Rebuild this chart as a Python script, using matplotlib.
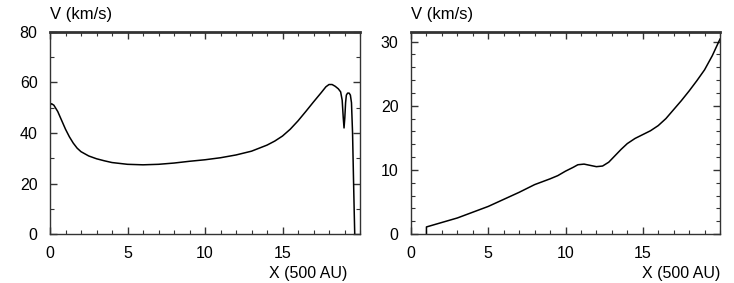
import matplotlib
matplotlib.use("Agg")
import matplotlib.pyplot as plt
from matplotlib.ticker import MultipleLocator

# Left panel data
x_left = [0.0, 0.1, 0.25, 0.5, 0.75, 1.0, 1.25, 1.5, 1.75, 2.0, 2.5, 3.0, 3.5, 4.0, 5.0, 6.0, 7.0,
          8.0, 9.0, 10.0, 11.0, 12.0, 13.0, 14.0, 14.5, 15.0, 15.5, 16.0, 16.5, 17.0, 17.5, 17.8,
          18.0, 18.2, 18.4, 18.6, 18.75, 18.85, 18.92, 18.97, 19.02, 19.07, 19.12, 19.2, 19.3,
          19.38, 19.45, 19.52, 19.58, 19.63, 19.66]
v_left = [51.0, 51.6, 51.0, 48.5, 45.0, 41.5, 38.5, 36.0, 34.0, 32.6, 30.9, 29.8, 29.0, 28.3, 27.6,
          27.4, 27.6, 28.1, 28.8, 29.4, 30.2, 31.3, 32.8, 35.2, 36.8, 38.8, 41.5, 44.8, 48.5, 52.3,
          56.0, 58.3, 59.2, 59.2, 58.5, 57.5, 56.3, 53.0, 46.0, 42.0, 46.0, 52.0, 55.0, 55.8, 55.8,
          55.0, 52.0, 40.0, 22.0, 8.0, 0.0]

# Right panel data
x_right = [1.0, 1.0, 2.0, 3.0, 4.0, 5.0, 6.0, 7.0, 8.0, 9.0, 9.5, 10.0, 10.5, 10.8, 11.2, 11.6,
           12.0, 12.4, 12.8, 13.2, 13.6, 14.0, 14.5, 15.0, 15.5, 16.0, 16.5, 17.0, 17.5, 18.0,
           18.5, 19.0, 19.5, 20.0]
v_right = [0.0, 1.1, 1.8, 2.5, 3.4, 4.3, 5.4, 6.5, 7.7, 8.6, 9.1, 9.8, 10.4, 10.8, 10.9, 10.7,
           10.5, 10.6, 11.2, 12.2, 13.2, 14.1, 14.9, 15.5, 16.1, 16.9, 18.0, 19.4, 20.8, 22.3,
           23.9, 25.6, 27.8, 30.4]

plt.rcParams['font.family'] = ['Liberation Sans', 'DejaVu Sans']

fig = plt.figure(figsize=(7.34, 2.83), dpi=100)
W, H = 734, 283
ax1 = fig.add_axes([50 / W, 1 - 234 / H, 310 / W, 202 / H])
ax2 = fig.add_axes([411 / W, 1 - 234 / H, 309 / W, 202 / H])

ax1.plot(x_left, v_left, color='black', lw=1.1)
ax1.set_xlim(0, 20)
ax1.set_ylim(0, 80)
ax1.set_xticks([0, 5, 10, 15])
ax1.xaxis.set_minor_locator(MultipleLocator(1))
ax1.yaxis.set_major_locator(MultipleLocator(20))
ax1.yaxis.set_minor_locator(MultipleLocator(10))

ax2.plot(x_right, v_right, color='black', lw=1.1)
ax2.set_xlim(0, 20)
ax2.set_ylim(0, 31.5)
ax2.set_xticks([0, 5, 10, 15])
ax2.xaxis.set_minor_locator(MultipleLocator(1))
ax2.yaxis.set_major_locator(MultipleLocator(10))
ax2.yaxis.set_minor_locator(MultipleLocator(2))

for ax, xr in ((ax1, 347), (ax2, 720)):
    for s in ax.spines.values():
        s.set_linewidth(1.0)
        s.set_color('#333333')
    ax.spines['top'].set_linewidth(2.0)
    ax.tick_params(which='both', direction='in', top=True, right=True, color='#333333')
    ax.tick_params(which='major', length=5, width=1.0, labelsize=11.5, pad=9)
    ax.tick_params(which='minor', length=3, width=0.8)
    ax.text(0.0, 1.05, 'V (km/s)', transform=ax.transAxes, ha='left', va='bottom', fontsize=12)
    fig.text(xr / W, 2 / H, 'X (500 AU)', ha='right', va='bottom', fontsize=11.5)

fig.savefig('out.png', dpi=100)
